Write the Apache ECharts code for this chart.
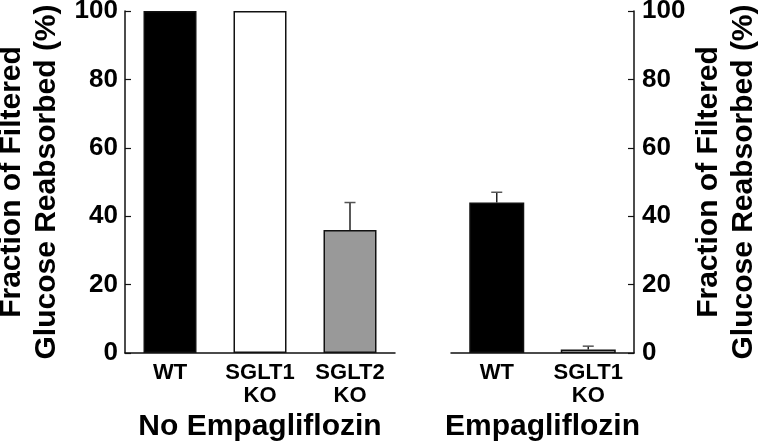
<!DOCTYPE html>
<html>
<head>
<meta charset="utf-8">
<script src="https://cdn.jsdelivr.net/npm/echarts@6/dist/echarts.min.js"></script>
<style>
html,body{margin:0;padding:0;background:#fff;}
#chart{width:760px;height:443px;}
</style>
</head>
<body>
<div id="chart"></div>
<script>
// ---- data ----
const leftCategories = ['WT', 'SGLT1\nKO', 'SGLT2\nKO'];
const leftValues = [100, 100, 36];
const leftErrors = [0, 0, 8];
const leftColors = ['#000000', '#ffffff', '#999999'];

const rightCategories = ['WT', 'SGLT1\nKO'];
const rightValues = [44, 1];
const rightErrors = [3, 1];
const rightColors = ['#000000', '#ffffff'];

const yTicks = [0, 20, 40, 60, 80, 100];
const leftGroupName = 'No Empagliflozin';
const rightGroupName = 'Empagliflozin';
const yAxisName = 'Fraction of Filtered\nGlucose Reabsorbed (%)';

// ---- chart ----
const FONT = '"Liberation Sans", Arial, sans-serif';
const chart = echarts.init(document.getElementById('chart'), null, {renderer: 'canvas'});

function barData(values, colors) {
  return values.map((v, i) => ({
    value: v,
    itemStyle: {color: colors[i], borderColor: '#111', borderWidth: 1.5}
  }));
}
function errData(values, errs) {
  return values.map((v, i) => [i, v, v + errs[i]]);
}
function errRender(params, api) {
  const lo = api.value(1), hi = api.value(2);
  if (hi <= lo) return null;
  const p0 = api.coord([api.value(0), lo]);
  const p1 = api.coord([api.value(0), hi]);
  const cap = 5.5;
  return {
    type: 'group',
    children: [
      {type: 'line', shape: {x1: p0[0], y1: p0[1], x2: p1[0], y2: p1[1]}, style: {stroke: '#222', lineWidth: 1.5}},
      {type: 'line', shape: {x1: p1[0] - cap, y1: p1[1], x2: p1[0] + cap, y2: p1[1]}, style: {stroke: '#555', lineWidth: 1.5}}
    ]
  };
}

const yAxisCommon = {
  type: 'value', min: yTicks[0], max: yTicks[yTicks.length - 1], interval: yTicks[1] - yTicks[0],
  name: yAxisName, nameLocation: 'middle',
  nameTextStyle: {fontFamily: FONT, fontSize: 30, fontWeight: 'bold', color: '#000', lineHeight: 35},
  axisLine: {show: true, lineStyle: {color: '#111', width: 1.5}},
  axisTick: {show: true, inside: true, length: 6, lineStyle: {color: '#111', width: 1.2}},
  axisLabel: {fontFamily: FONT, fontSize: 26, fontWeight: 'bold', color: '#000'},
  splitLine: {show: false}
};
const xAxisCommon = {
  type: 'category',
  nameLocation: 'middle',
  nameTextStyle: {fontFamily: FONT, fontSize: 30, fontWeight: 'bold', color: '#000'},
  axisLine: {show: true, lineStyle: {color: '#111', width: 1.5}},
  axisTick: {show: false},
  axisLabel: {fontFamily: FONT, fontSize: 22, fontWeight: 'bold', color: '#000', lineHeight: 23, margin: 8, interval: 0}
};

chart.setOption({
  animation: false,
  backgroundColor: '#fff',
  grid: [
    {left: 125, top: 11, width: 270, height: 342, containLabel: false, outerBoundsMode: 'none'},
    {left: 451, top: 11, width: 183, height: 342, containLabel: false, outerBoundsMode: 'none'}
  ],
  xAxis: [
    Object.assign({}, xAxisCommon, {gridIndex: 0, data: leftCategories, name: leftGroupName, nameGap: 57}),
    Object.assign({}, xAxisCommon, {gridIndex: 1, data: rightCategories, name: rightGroupName, nameGap: 57})
  ],
  yAxis: [
    Object.assign({}, yAxisCommon, {gridIndex: 0, position: 'left', nameGap: 61,
      axisLabel: Object.assign({}, yAxisCommon.axisLabel, {margin: 7})}),
    Object.assign({}, yAxisCommon, {gridIndex: 1, position: 'right', nameGap: 57,
      axisLabel: Object.assign({}, yAxisCommon.axisLabel, {margin: 8})})
  ],
  series: [
    {type: 'bar', xAxisIndex: 0, yAxisIndex: 0, barWidth: 53, data: barData(leftValues, leftColors)},
    {type: 'bar', xAxisIndex: 1, yAxisIndex: 1, barWidth: 55, data: barData(rightValues, rightColors)},
    {type: 'custom', xAxisIndex: 0, yAxisIndex: 0, renderItem: errRender, data: errData(leftValues, leftErrors), z: 5},
    {type: 'custom', xAxisIndex: 1, yAxisIndex: 1, renderItem: errRender, data: errData(rightValues, rightErrors), z: 5}
  ]
});
</script>
</body>
</html>
